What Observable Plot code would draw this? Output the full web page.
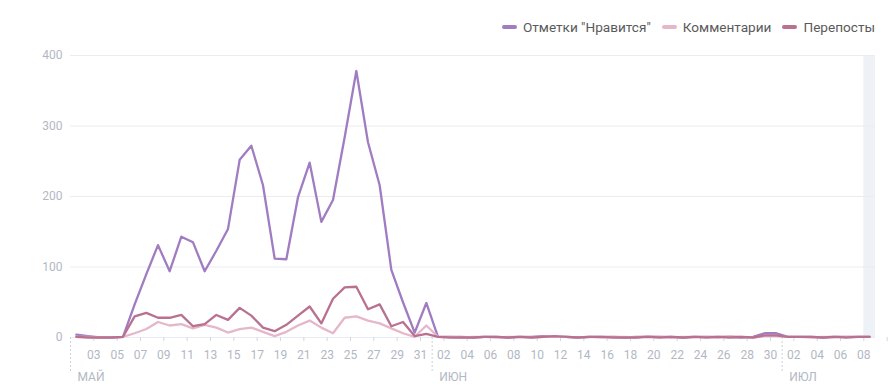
<!DOCTYPE html>
<html><head><meta charset="utf-8">
<script src="https://cdn.jsdelivr.net/npm/d3@7"></script>
<script src="https://cdn.jsdelivr.net/npm/@observablehq/plot@0.6"></script>
<style>
body{margin:0;background:#fff;font-family:Roboto,"Noto Sans",sans-serif;}
#wrap{position:relative;width:895px;height:391px;overflow:hidden;}
#legend{position:absolute;top:18px;right:20px;display:flex;gap:11px;font-size:13.6px;color:#5a5a5a;line-height:18px;z-index:2;}
#legend .item{display:flex;align-items:center;gap:6px;}
#legend .sw{display:inline-block;width:15px;height:3.5px;border-radius:2px;}
#chart{position:absolute;top:0;left:0;}
</style></head><body>
<div id="wrap"><div id="legend"></div><div id="chart"></div></div>
<script>
// Days from 1 May to 8 July (index 0 = 1 May)
const startYear = 2019;
const likes = [4,2,0,0,1,47,90,131,94,143,135,94,123,154,252,272,216,112,111,199,248,164,195,284,378,277,216,96,50,7,49,
  1,1,1,0,1,1,0,1,1,2,1,1,0,1,1,1,0,1,1,1,1,0,1,1,1,1,0,1,6,6,
  1,1,1,0,1,1,1,1];
const comments = [1,1,0,0,1,6,12,22,17,19,13,18,14,7,12,14,8,2,8,17,24,14,6,28,30,24,20,13,6,1,17,
  1,1,0,1,1,0,1,1,0,1,1,1,0,1,0,1,1,0,2,1,0,1,1,1,0,2,1,0,2,2,
  1,1,0,1,1,1,1,1];
const reposts = [1,0,0,0,1,30,35,28,28,32,16,19,32,25,42,31,14,9,18,31,44,20,55,71,72,40,47,16,22,2,5,
  1,0,0,0,1,1,0,1,0,1,2,1,0,1,1,0,0,0,1,0,1,0,1,0,1,0,1,0,3,3,
  1,1,1,0,1,0,1,1];
const seriesNames = ['Отметки "Нравится"', "Комментарии", "Перепосты"];
const seriesColors = ["#a07cc1", "#e5b7ca", "#b87190"];
const monthNames = ["МАЙ", "ИЮН", "ИЮЛ"];
const monthStarts = [0, 31, 61];
const yTicks = [0, 100, 200, 300, 400];
const dayTicks = d3.range(2, 71, 2);
const lastDay = 68;

const dayLabel = d => d > lastDay ? "" : String(new Date(Date.UTC(startYear, 4, 1 + d)).getUTCDate()).padStart(2, "0");

const series = [likes, comments, reposts].map((vals, k) =>
  vals.map((v, i) => ({d: i + 0.5, v, s: seriesNames[k]})));

const axisColor = "#b2b8c3";
const chart = Plot.plot({
  width: 895, height: 391,
  marginTop: 55, marginBottom: 54, marginLeft: 70, marginRight: 20,
  style: {fontFamily: "Roboto, sans-serif", fontSize: "12px", background: "transparent"},
  x: {type: "linear", domain: [0, 69], axis: null},
  y: {domain: [0, 400], axis: null},
  marks: [
    Plot.rect([{a: lastDay, b: lastDay + 1}], {x1: "a", x2: "b", y1: 0, y2: 400, fill: "#eef1f6"}),
    Plot.gridY(yTicks, {stroke: "#e9ecf0", strokeOpacity: 1}),
    Plot.axisY(yTicks, {tickSize: 0, tickPadding: 8, fill: axisColor, fontSize: 12, label: null}),
    Plot.axisX(dayTicks, {tickSize: 4, tickPadding: 9, tickFormat: dayLabel, stroke: "#d3d7de", fill: axisColor, fontSize: 12, label: null}),
    Plot.ruleX(monthStarts, {y1: 0, y2: -50, stroke: "#ccd1d8", strokeDasharray: "2,2"}),
    Plot.text(monthNames.map((m, i) => ({m, x: monthStarts[i]})), {x: "x", y: 0, text: "m", dy: 40, dx: 7, textAnchor: "start", fill: axisColor, fontSize: 12}),
    ...series.map((rows, k) => Plot.lineY(rows, {x: "d", y: "v", stroke: seriesColors[k], strokeWidth: 2.3, strokeLinejoin: "round", strokeLinecap: "round"}))
  ]
});
document.getElementById("chart").append(chart);

const legend = document.getElementById("legend");
seriesNames.forEach((n, k) => {
  const it = document.createElement("div"); it.className = "item";
  const sw = document.createElement("span"); sw.className = "sw"; sw.style.background = seriesColors[k];
  const t = document.createElement("span"); t.textContent = n;
  it.append(sw, t); legend.append(it);
});
</script>
</body></html>
